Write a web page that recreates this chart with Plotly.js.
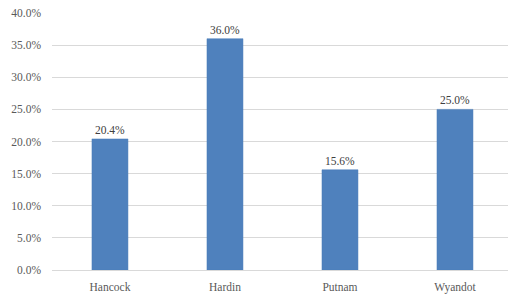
<!DOCTYPE html>
<html><head><meta charset="utf-8">
<script src="https://cdn.plot.ly/plotly-3.0.1.min.js"></script>
<style>html,body{margin:0;padding:0;background:#fff;}#chart{width:509px;height:296px;}</style>
</head><body><div id="chart"></div>
<script>
const counties = ["Hancock", "Hardin", "Putnam", "Wyandot"];
const percentValues = [20.4, 36.0, 15.6, 25.0];
const yTicks = [0, 5, 10, 15, 20, 25, 30, 35, 40];

const font = "Liberation Serif, DejaVu Serif, serif";
Plotly.newPlot("chart", [{
  type: "bar",
  x: counties,
  y: percentValues,
  marker: {color: "#4F81BD", line: {color: "#4A7EBB", width: 0.5}},
  texttemplate: "%{y:.1f}%",
  textposition: "outside",
  cliponaxis: false,
  textfont: {family: font, size: 11.5, color: "#404040"},
  hoverinfo: "none"
}], {
  width: 509, height: 296,
  margin: {l: 52, r: 1, t: 13, b: 26},
  paper_bgcolor: "#fff", plot_bgcolor: "#fff",
  bargap: 0.687,
  showlegend: false,
  xaxis: {
    range: [-0.504, 3.461],
    showline: true, linecolor: "#d9d9d9", linewidth: 1,
    ticks: "", showgrid: false,
    ticklabelstandoff: 6,
    tickfont: {family: font, size: 11.5, color: "#595959"}
  },
  yaxis: {
    range: [0, 40], tickvals: yTicks,
    ticktext: yTicks.map(v => v.toFixed(1) + "%"),
    showgrid: true, gridcolor: "#d9d9d9", gridwidth: 1,
    zeroline: false, showline: false, ticks: "",
    ticklabelstandoff: 10,
    tickfont: {family: font, size: 11.5, color: "#595959"}
  }
}, {staticPlot: true});
</script></body></html>
